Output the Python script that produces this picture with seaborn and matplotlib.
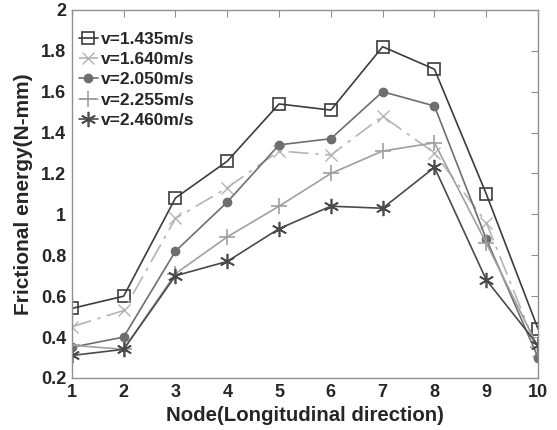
import matplotlib
matplotlib.use('Agg')
import matplotlib.pyplot as plt
import seaborn as sns

nodes = [1, 2, 3, 4, 5, 6, 7, 8, 9, 10]
labels = ['v=1.435m/s', 'v=1.640m/s', 'v=2.050m/s', 'v=2.255m/s', 'v=2.460m/s']
v1435 = [0.54, 0.60, 1.08, 1.26, 1.54, 1.51, 1.82, 1.71, 1.10, 0.44]
v1640 = [0.45, 0.53, 0.98, 1.13, 1.31, 1.29, 1.48, 1.30, 0.96, 0.33]
v2050 = [0.35, 0.40, 0.82, 1.06, 1.34, 1.37, 1.60, 1.53, 0.88, 0.30]
v2255 = [0.36, 0.34, 0.71, 0.89, 1.04, 1.20, 1.31, 1.35, 0.86, 0.35]
v2460 = [0.31, 0.34, 0.70, 0.77, 0.93, 1.04, 1.03, 1.23, 0.68, 0.36]
yticks = [0.2, 0.4, 0.6, 0.8, 1.0, 1.2, 1.4, 1.6, 1.8, 2.0]
ytick_labels = ['0.2', '0.4', '0.6', '0.8', '1', '1.2', '1.4', '1.6', '1.8', '2']

sns.set_style('white')
plt.rcParams['font.family'] = ['Liberation Sans', 'DejaVu Sans']

fig = plt.figure(figsize=(5.57, 4.30), dpi=100)
ax = fig.add_axes([0.129, 0.121, 0.837, 0.856])

styles = [
    dict(color='#3c3c3c', marker='s', ls='-', mfc='none', ms=9, mew=1.2),
    dict(color='#b4b4b4', marker='x', ls=(0, (12, 4, 2, 4)), mfc='none', ms=9, mew=1.0),
    dict(color='#6e6e6e', marker='o', ls='-', mfc='#6e6e6e', ms=6, mew=1.0),
    dict(color='#a0a0a0', marker='+', ls='-', mfc='none', ms=12, mew=1.2),
    dict(color='#4a4a4a', marker=(6, 2, 0), ls='-', mfc='none', ms=11, mew=1.2),
]

for vals, lab, st in zip([v1435, v1640, v2050, v2255, v2460], labels, styles):
    sns.lineplot(x=nodes, y=vals, ax=ax, label=lab, color=st['color'],
                 marker=st['marker'], linestyle=st['ls'], markerfacecolor=st['mfc'],
                 markeredgecolor=st['color'], markersize=st['ms'],
                 markeredgewidth=st['mew'], linewidth=1.2)

ax.set_xlim(1, 10)
ax.set_ylim(0.2, 2)
ax.set_xticks(nodes)
ax.set_xticklabels([str(n) for n in nodes], fontsize=13, fontweight='bold')
ax.set_yticks(yticks)
ax.set_yticklabels(ytick_labels, fontsize=13, fontweight='bold')
ax.tick_params(direction='in', length=5, color='#909090', pad=4,
               top=True, right=True)
for sp in ax.spines.values():
    sp.set_color('#909090')
    sp.set_linewidth(1.0)

ax.set_xlabel('Node(Longitudinal direction)', fontsize=14.7, fontweight='bold')
ax.set_ylabel('Frictional energy(N-mm)', fontsize=15, fontweight='bold', labelpad=6)

ax.legend(loc='upper left', bbox_to_anchor=(0.0, 0.96), frameon=False,
          handlelength=1.1, handletextpad=0.15, labelspacing=0.3,
          borderaxespad=0.0, prop={'weight': 'bold', 'size': 12.5})

fig.savefig('out.png', dpi=100)
